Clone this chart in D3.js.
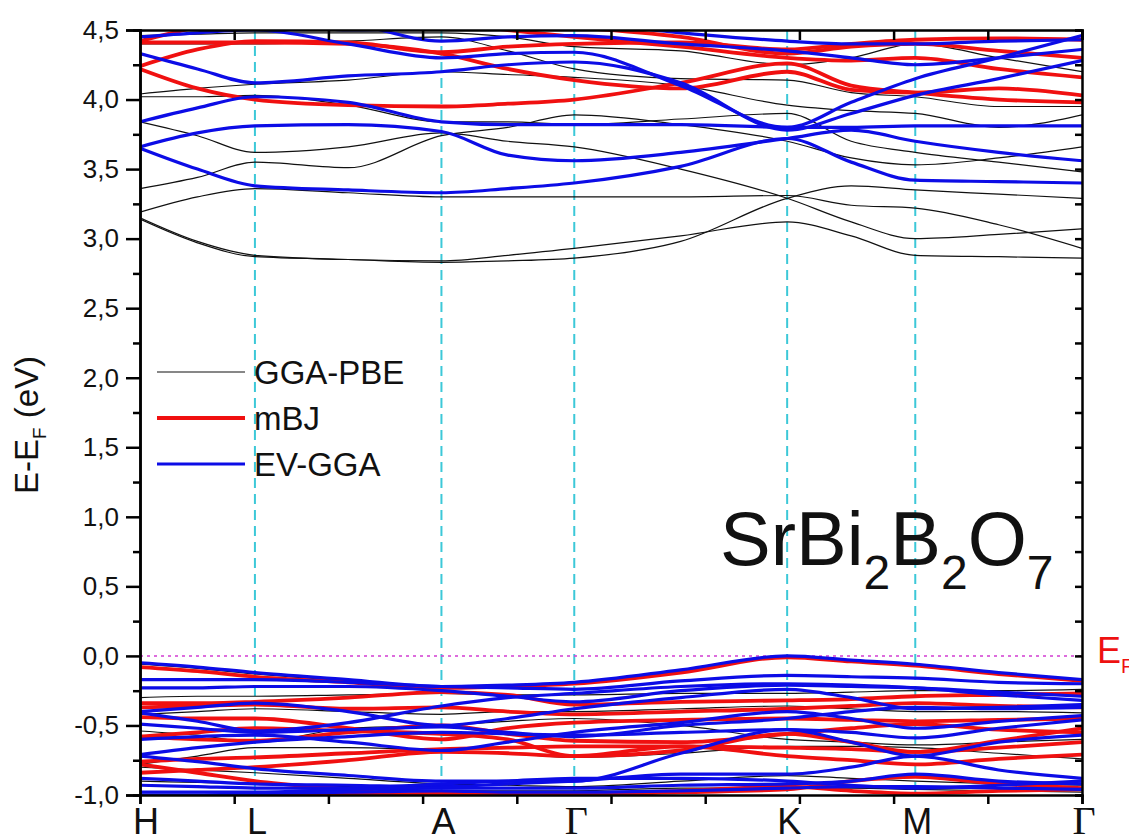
<!DOCTYPE html>
<html>
<head>
<meta charset="utf-8">
<script src="https://cdn.jsdelivr.net/npm/d3@7"></script>
<style>
body { margin: 0; background: #fff; }
</style>
</head>
<body>
<div id="chart"></div>
<script>
// high symmetry points along the k path
var kLabels = ["H", "L", "A", "\u0393", "K", "M", "\u0393"];
var kPos = [0, 1.22, 3.2, 4.61, 6.87, 8.23, 10];
// k values where the band energies were read
var kGrid = [0, 0.61, 1.22, 2.21, 3.2, 3.905, 4.61, 5.74, 6.87, 7.55, 8.23, 9.115, 10];

var yMajor = [-1.0, -0.5, 0.0, 0.5, 1.0, 1.5, 2.0, 2.5, 3.0, 3.5, 4.0, 4.5];
var yMinor = [-0.75, -0.25, 0.25, 0.75, 1.25, 1.75, 2.25, 2.75, 3.25, 3.75, 4.25];

var seriesNames = ["GGA-PBE", "mBJ", "EV-GGA"];

// GGA-PBE bands (eV)
var ggaBands = [
  [3.14, 2.97, 2.87, 2.85, 2.83, 2.84, 2.86, 2.98, 3.29, 3.38, 3.35, 3.32, 3.29],
  [3.15, 2.98, 2.88, 2.85, 2.84, 2.88, 2.93, 3.02, 3.12, 3.02, 2.88, 2.87, 2.86],
  [3.19, 3.30, 3.36, 3.33, 3.30, 3.30, 3.30, 3.30, 3.31, 3.24, 3.22, 3.10, 2.93],
  [3.36, 3.44, 3.55, 3.51, 3.74, 3.80, 3.89, 3.82, 3.70, 3.58, 3.53, 3.58, 3.66],
  [3.84, 3.74, 3.62, 3.66, 3.76, 3.70, 3.66, 3.50, 3.29, 3.12, 3.00, 3.03, 3.07],
  [4.02, 4.02, 4.03, 3.96, 3.84, 3.84, 3.82, 3.86, 3.90, 3.70, 3.62, 3.55, 3.48],
  [4.04, 4.08, 4.11, 4.14, 4.20, 4.18, 4.16, 4.10, 3.96, 3.92, 3.90, 3.80, 3.89],
  [4.40, 4.40, 4.40, 4.42, 4.45, 4.35, 4.22, 4.15, 4.14, 4.05, 4.02, 3.95, 3.95],
  [4.46, 4.47, 4.48, 4.48, 4.48, 4.45, 4.38, 4.35, 4.25, 4.30, 4.40, 4.30, 4.20],
  [-0.06, -0.09, -0.13, -0.18, -0.22, -0.21, -0.19, -0.10, 0.00, -0.03, -0.06, -0.12, -0.17],
  [-0.30, -0.29, -0.29, -0.28, -0.27, -0.28, -0.28, -0.27, -0.27, -0.26, -0.25, -0.25, -0.24],
  [-0.42, -0.40, -0.38, -0.40, -0.42, -0.40, -0.40, -0.38, -0.36, -0.38, -0.40, -0.40, -0.41],
  [-0.54, -0.57, -0.62, -0.52, -0.50, -0.47, -0.45, -0.50, -0.60, -0.62, -0.64, -0.62, -0.60],
  [-0.78, -0.72, -0.66, -0.66, -0.68, -0.70, -0.73, -0.70, -0.65, -0.65, -0.66, -0.70, -0.74],
  [-0.80, -0.82, -0.84, -0.88, -0.92, -0.93, -0.94, -0.90, -0.86, -0.88, -0.90, -0.92, -0.93],
  [-0.90, -0.91, -0.92, -0.94, -0.97, -0.97, -0.97, -0.95, -0.95, -0.95, -0.96, -0.97, -0.98]
];

// mBJ bands (eV)
var mbjBands = [
  [4.24, 4.36, 4.42, 4.41, 4.34, 4.38, 4.40, 4.41, 4.36, 4.40, 4.43, 4.44, 4.43],
  [4.22, 4.08, 4.00, 3.96, 3.95, 3.97, 4.00, 4.12, 4.26, 4.10, 4.05, 4.00, 3.98],
  [4.41, 4.41, 4.41, 4.40, 4.33, 4.22, 4.14, 4.08, 4.20, 4.07, 4.05, 4.08, 4.03],
  [4.42, 4.52, 4.58, 4.60, 4.55, 4.50, 4.45, 4.38, 4.30, 4.28, 4.30, 4.22, 4.16],
  [4.60, 4.60, 4.60, 4.60, 4.60, 4.55, 4.52, 4.45, 4.33, 4.38, 4.40, 4.35, 4.30],
  [-0.08, -0.11, -0.15, -0.19, -0.23, -0.22, -0.20, -0.12, -0.01, -0.04, -0.07, -0.13, -0.18],
  [-0.34, -0.34, -0.33, -0.30, -0.26, -0.28, -0.35, -0.33, -0.32, -0.31, -0.29, -0.28, -0.27],
  [-0.37, -0.36, -0.35, -0.38, -0.37, -0.40, -0.42, -0.40, -0.38, -0.36, -0.34, -0.36, -0.37],
  [-0.44, -0.45, -0.45, -0.52, -0.60, -0.52, -0.48, -0.46, -0.45, -0.46, -0.47, -0.46, -0.45],
  [-0.58, -0.60, -0.61, -0.55, -0.50, -0.56, -0.61, -0.62, -0.56, -0.52, -0.49, -0.53, -0.55],
  [-0.58, -0.55, -0.52, -0.54, -0.56, -0.60, -0.72, -0.68, -0.56, -0.62, -0.69, -0.61, -0.52],
  [-0.76, -0.74, -0.73, -0.70, -0.67, -0.66, -0.65, -0.65, -0.66, -0.67, -0.69, -0.66, -0.62],
  [-0.84, -0.82, -0.80, -0.75, -0.69, -0.70, -0.72, -0.65, -0.72, -0.75, -0.78, -0.74, -0.71],
  [-0.78, -0.84, -0.90, -0.96, -1.02, -1.00, -1.00, -0.98, -0.96, -0.90, -0.87, -0.92, -0.95],
  [-1.02, -1.01, -1.00, -1.00, -0.99, -0.99, -0.99, -0.97, -0.94, -0.97, -0.99, -0.97, -0.96]
];

// EV-GGA bands (eV)
var evBands = [
  [3.65, 3.50, 3.38, 3.35, 3.33, 3.36, 3.40, 3.52, 3.72, 3.55, 3.42, 3.41, 3.40],
  [3.66, 3.76, 3.81, 3.82, 3.77, 3.60, 3.56, 3.62, 3.72, 3.78, 3.70, 3.62, 3.56],
  [3.84, 3.94, 4.02, 3.98, 3.84, 3.82, 3.82, 3.82, 3.80, 3.80, 3.81, 3.81, 3.81],
  [4.33, 4.22, 4.12, 4.17, 4.20, 4.25, 4.27, 4.12, 3.78, 3.90, 4.03, 4.15, 4.28],
  [4.45, 4.48, 4.50, 4.40, 4.30, 4.33, 4.34, 4.10, 3.80, 3.98, 4.15, 4.30, 4.46],
  [4.50, 4.55, 4.60, 4.55, 4.42, 4.45, 4.46, 4.40, 4.35, 4.30, 4.25, 4.30, 4.36],
  [4.60, 4.60, 4.58, 4.50, 4.52, 4.55, 4.55, 4.48, 4.42, 4.40, 4.40, 4.42, 4.43],
  [-0.05, -0.08, -0.12, -0.17, -0.22, -0.21, -0.19, -0.10, 0.00, -0.03, -0.06, -0.12, -0.17],
  [-0.17, -0.17, -0.17, -0.19, -0.22, -0.23, -0.24, -0.18, -0.14, -0.15, -0.16, -0.19, -0.20],
  [-0.23, -0.23, -0.22, -0.22, -0.25, -0.29, -0.33, -0.25, -0.21, -0.22, -0.23, -0.26, -0.29],
  [-0.41, -0.47, -0.54, -0.48, -0.36, -0.30, -0.27, -0.22, -0.20, -0.21, -0.23, -0.28, -0.32],
  [-0.40, -0.37, -0.34, -0.40, -0.50, -0.45, -0.38, -0.30, -0.24, -0.30, -0.38, -0.37, -0.35],
  [-0.49, -0.52, -0.55, -0.53, -0.51, -0.55, -0.58, -0.50, -0.45, -0.40, -0.37, -0.38, -0.37],
  [-0.60, -0.58, -0.57, -0.62, -0.68, -0.62, -0.55, -0.48, -0.40, -0.45, -0.52, -0.47, -0.43],
  [-0.71, -0.66, -0.62, -0.58, -0.55, -0.56, -0.57, -0.55, -0.53, -0.55, -0.59, -0.52, -0.46],
  [-0.72, -0.76, -0.81, -0.86, -0.90, -0.90, -0.90, -0.70, -0.53, -0.62, -0.72, -0.62, -0.57],
  [-0.88, -0.90, -0.92, -0.93, -0.94, -0.92, -0.90, -0.85, -0.85, -0.80, -0.72, -0.82, -0.88],
  [-0.93, -0.94, -0.95, -0.95, -0.92, -0.90, -0.88, -0.88, -0.90, -0.93, -0.95, -0.93, -0.90],
  [-0.98, -0.98, -0.98, -0.96, -0.95, -0.95, -0.95, -0.93, -0.92, -0.90, -0.85, -0.90, -0.92],
  [-1.00, -1.00, -0.99, -0.98, -0.97, -0.98, -0.98, -0.97, -0.95, -0.94, -0.94, -0.95, -0.96]
];

var width = 1129;
var height = 834;
var plotL = 140, plotR = 1082, plotT = 30, plotB = 795;
var sans = "Arial, 'Liberation Sans', sans-serif";
var serif = "'Liberation Serif', 'Times New Roman', 'DejaVu Serif', serif";

var svg = d3.select("#chart").append("svg")
  .attr("width", width)
  .attr("height", height)
  .style("font-family", sans);

var x = d3.scaleLinear().domain([0, 10]).range([plotL, plotR]);
var y = d3.scaleLinear().domain([-1, 4.5]).range([plotB, plotT]);

svg.append("clipPath").attr("id", "plotclip")
  .append("rect")
  .attr("x", plotL).attr("y", plotT)
  .attr("width", plotR - plotL).attr("height", plotB - plotT);

// dashed lines at the high symmetry points
svg.append("g")
  .selectAll("line")
  .data(kPos.slice(1, -1))
  .join("line")
    .attr("x1", d => x(d)).attr("x2", d => x(d))
    .attr("y1", plotT).attr("y2", plotB)
    .attr("stroke", "#3cc8d8")
    .attr("stroke-width", 2)
    .attr("stroke-dasharray", "10,6");

// Fermi level
svg.append("line")
  .attr("x1", plotL).attr("x2", plotR)
  .attr("y1", y(0)).attr("y2", y(0))
  .attr("stroke", "#d23cd2")
  .attr("stroke-width", 1.5)
  .attr("stroke-dasharray", "3,4");

var line = d3.line()
  .x((d, i) => x(kGrid[i]))
  .y(d => y(d))
  .curve(d3.curveMonotoneX);

var styles = [
  {bands: ggaBands, color: "#111111", w: 1.2},
  {bands: mbjBands, color: "#f01010", w: 3.8},
  {bands: evBands, color: "#0c0ce6", w: 3.2}
];

var bandsG = svg.append("g").attr("clip-path", "url(#plotclip)");
styles.forEach(function(s) {
  bandsG.append("g")
    .selectAll("path")
    .data(s.bands)
    .join("path")
      .attr("d", line)
      .attr("fill", "none")
      .attr("stroke", s.color)
      .attr("stroke-width", s.w)
      .attr("stroke-linejoin", "round");
});

// axes
var fmt = d => d.toFixed(1).replace(".", ",");

var yAxis = svg.append("g")
  .attr("transform", "translate(" + plotL + ",0)")
  .call(d3.axisLeft(y).tickValues(yMajor).tickSize(14).tickFormat(fmt));
svg.append("g")
  .attr("transform", "translate(" + plotL + ",0)")
  .call(d3.axisLeft(y).tickValues(yMinor).tickSize(7).tickFormat(""));
svg.append("g")
  .attr("transform", "translate(" + plotR + ",0)")
  .call(d3.axisRight(y).tickValues(yMajor.concat(yMinor)).tickSize(-7).tickFormat(""));
svg.append("g")
  .attr("transform", "translate(0," + plotB + ")")
  .call(d3.axisBottom(x).ticks(10).tickSize(9).tickFormat(""));
svg.append("g")
  .attr("transform", "translate(0," + plotT + ")")
  .call(d3.axisTop(x).ticks(10).tickSize(-10).tickFormat(""));

svg.selectAll(".domain").attr("stroke", "#000").attr("stroke-width", 2.5);
svg.selectAll(".tick line").attr("stroke", "#000").attr("stroke-width", 2.5);

yAxis.selectAll("text")
  .attr("font-size", 26)
  .style("font-family", sans)
  .attr("fill", "#111")
  .attr("x", -21);

// k point labels
svg.append("g")
  .selectAll("text")
  .data(kLabels)
  .join("text")
    .attr("x", (d, i) => x(kPos[i]) + (i == 0 ? 6 : 2))
    .attr("y", 834)
    .attr("text-anchor", "middle")
    .attr("font-size", d => d == "\u0393" ? 40 : 36)
    .style("font-family", d => d == "\u0393" ? serif : sans)
    .attr("fill", "#111")
    .text(d => d);

// y axis title
var yt = svg.append("text")
  .attr("transform", "translate(38,425) rotate(-90)")
  .attr("text-anchor", "middle")
  .attr("font-size", 33)
  .attr("fill", "#111");
yt.append("tspan").text("E-E");
yt.append("tspan").attr("font-size", 19).attr("dy", 8).text("F");
yt.append("tspan").attr("dy", -8).text(" (eV)");

// legend
var legend = svg.append("g");
styles.forEach(function(s, i) {
  var ly = 372 + i * 46;
  legend.append("line")
    .attr("x1", 157).attr("x2", 245)
    .attr("y1", ly).attr("y2", ly)
    .attr("stroke", s.color)
    .attr("stroke-width", s.w);
  legend.append("text")
    .attr("x", 254).attr("y", ly + 12)
    .attr("font-size", 33)
    .attr("fill", "#111")
    .text(seriesNames[i]);
});

// compound name
var title = svg.append("text")
  .attr("x", 720).attr("y", 565)
  .attr("font-size", 76)
  .attr("fill", "#111");
title.append("tspan").text("SrBi");
title.append("tspan").attr("font-size", 48).attr("dy", 24).text("2");
title.append("tspan").attr("dy", -24).text("B");
title.append("tspan").attr("font-size", 48).attr("dy", 24).text("2");
title.append("tspan").attr("dy", -24).text("O");
title.append("tspan").attr("font-size", 48).attr("dy", 24).text("7");

// Fermi label
var ef = svg.append("text")
  .attr("x", 1097).attr("y", 663)
  .attr("font-size", 36)
  .attr("fill", "#ee1111");
ef.append("tspan").text("E");
ef.append("tspan").attr("font-size", 20).attr("dy", 10).text("F");
</script>
</body>
</html>
